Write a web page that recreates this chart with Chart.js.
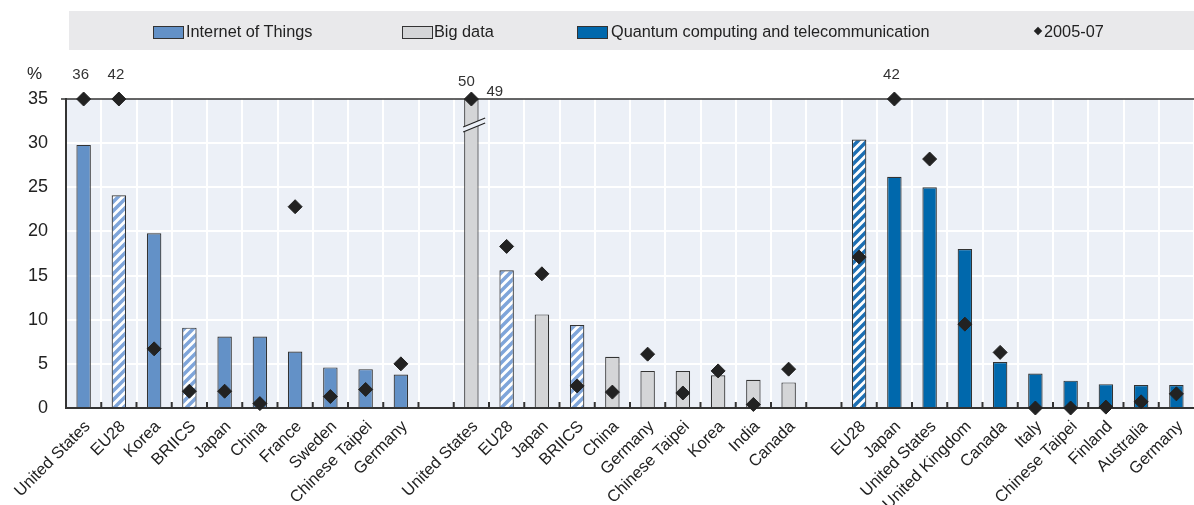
<!DOCTYPE html>
<html>
<head>
<meta charset="utf-8">
<script src="https://cdn.jsdelivr.net/npm/chart.js@4.4.1/dist/chart.umd.min.js"></script>
<style>
  body { margin: 0; overflow: hidden; background: #fff; }
  #wrap { position: relative; width: 1202px; height: 505px; font-family: 'Liberation Sans', Arial, sans-serif; color: #222; }
  #legend { position: absolute; left: 69px; top: 11px; width: 1133px; height: 39px; background: #e9e9eb; }
  .sw { position: absolute; top: 15px; width: 29px; height: 11px; border: 1px solid #333; }
  .txt { position: absolute; top: 0; line-height: 40px; font-size: 16.3px; white-space: nowrap; }
  .dia { position: absolute; top: 17px; width: 6px; height: 6px; background: #222; transform: rotate(45deg); }
  #pct { position: absolute; left: 27px; top: 64px; font-size: 17px; }
  canvas { position: absolute; left: 0; top: 0; }
</style>
</head>
<body>
<div id="wrap">
  <canvas id="chart" width="1202" height="505"></canvas>
  <div id="legend">
    <div class="sw" style="left:84px;background:#6391c7"></div><div class="txt" style="left:117px">Internet of Things</div>
    <div class="sw" style="left:333px;background:#d4d5d7"></div><div class="txt" style="left:365px">Big data</div>
    <div class="sw" style="left:508px;background:#0068ac"></div><div class="txt" style="left:542px">Quantum computing and telecommunication</div>
    <div class="dia" style="left:966px"></div><div class="txt" style="left:975px">2005-07</div>
  </div>
  <div id="pct">%</div>
</div>
<script>
const Y_MAX = 35;
const FONT = "'Liberation Sans', Arial, sans-serif";

// Internet of Things
const iotLabels = ['United States', 'EU28', 'Korea', 'BRIICS', 'Japan', 'China', 'France', 'Sweden', 'Chinese Taipei', 'Germany'];
const iotShare = [29.8, 24.1, 19.8, 9.1, 8.1, 8.1, 6.4, 4.6, 4.4, 3.8];
const iotPrev = [36, 42, 6.7, 1.9, 1.9, 0.5, 22.8, 1.3, 2.1, 5.0];

// Big data
const bigLabels = ['United States', 'EU28', 'Japan', 'BRIICS', 'China', 'Germany', 'Chinese Taipei', 'Korea', 'India', 'Canada'];
const bigShare = [50, 15.6, 10.6, 9.4, 5.8, 4.2, 4.2, 3.7, 3.2, 2.9];
const bigPrev = [49, 18.3, 15.2, 2.5, 1.8, 6.1, 1.7, 4.2, 0.4, 4.4];

// Quantum computing and telecommunication
const qLabels = ['EU28', 'Japan', 'United States', 'United Kingdom', 'Canada', 'Italy', 'Chinese Taipei', 'Finland', 'Australia', 'Germany'];
const qShare = [30.4, 26.2, 25.0, 18.0, 5.2, 3.9, 3.1, 2.7, 2.6, 2.6];
const qPrev = [17.1, 42, 28.2, 9.5, 6.3, 0.0, 0.0, 0.1, 0.7, 1.6];

const aggregates = ['EU28', 'BRIICS'];
const yTicks = [0, 5, 10, 15, 20, 25, 30, 35];

function hatch(stripe) {
  const n = 9;
  const c = document.createElement('canvas');
  c.width = c.height = n;
  const g = c.getContext('2d');
  g.fillStyle = '#fff';
  g.fillRect(0, 0, n, n);
  g.strokeStyle = stripe;
  g.lineWidth = 3.5;
  g.beginPath();
  g.moveTo(-2, n + 2); g.lineTo(n + 2, -2);
  g.moveTo(-2, 2); g.lineTo(2, -2);
  g.moveTo(n - 2, n + 2); g.lineTo(n + 2, n - 2);
  g.stroke();
  return g.createPattern(c, 'repeat');
}

const lightHatch = hatch('#7fa5da');
const darkHatch = hatch('#1d6fb3');

const labels = [...iotLabels, '', ...bigLabels, '', ...qLabels];
const barValues = [...iotShare, null, ...bigShare, null, ...qShare];
const prevValues = [...iotPrev, null, ...bigPrev, null, ...qPrev];
const barColors = [
  ...iotLabels.map(l => aggregates.includes(l) ? lightHatch : '#6391c7'), 'transparent',
  ...bigLabels.map(l => aggregates.includes(l) ? lightHatch : '#d4d5d7'), 'transparent',
  ...qLabels.map(l => aggregates.includes(l) ? darkHatch : '#0068ac')
];

const clip = v => v == null ? null : Math.min(v, Y_MAX);

const frame = {
  id: 'frame',
  beforeDraw(chart) {
    const { ctx, chartArea: a } = chart;
    ctx.save();
    ctx.fillStyle = '#ecf0f7';
    ctx.fillRect(a.left, a.top, a.right - a.left, a.bottom - a.top);
    ctx.restore();
  },
  afterDatasetDraw(chart, args) {
    if (args.index !== 0) return;
    const { ctx, chartArea: a } = chart;
    const meta = chart.getDatasetMeta(0);
    ctx.save();
    // break marks on bars cut at the top of the scale
    barValues.forEach((v, i) => {
      if (v == null || v <= Y_MAX) return;
      const bar = meta.data[i];
      const x0 = bar.x - bar.width / 2 - 1, x1 = x0 + 22;
      const y0 = a.top + 33;
      ctx.fillStyle = '#ecf0f7';
      ctx.beginPath();
      ctx.moveTo(x0, y0); ctx.lineTo(x1, y0 - 9); ctx.lineTo(x1, y0 - 14); ctx.lineTo(x0, y0 - 5);
      ctx.closePath();
      ctx.fill();
      ctx.strokeStyle = '#222';
      ctx.lineWidth = 1.2;
      ctx.beginPath();
      ctx.moveTo(x0, y0); ctx.lineTo(x1, y0 - 9);
      ctx.moveTo(x0, y0 - 5); ctx.lineTo(x1, y0 - 14);
      ctx.stroke();
    });
    ctx.strokeStyle = '#333';
    ctx.lineWidth = 2;
    ctx.beginPath();
    ctx.moveTo(a.left - 1, a.bottom); ctx.lineTo(a.right, a.bottom);
    ctx.stroke();
    ctx.lineWidth = 1.5;
    ctx.beginPath();
    ctx.moveTo(a.left - 5, a.top); ctx.lineTo(a.right, a.top);
    ctx.stroke();
    // small tick marks between categories
    ctx.lineWidth = 2;
    const step = (a.right - a.left) / labels.length;
    ctx.beginPath();
    for (let i = 1; i < labels.length; i++) {
      const xx = a.left + i * step;
      ctx.moveTo(xx, a.bottom);
      ctx.lineTo(xx, a.bottom - 6);
    }
    ctx.stroke();
    ctx.restore();
  },
  afterDraw(chart) {
    const { ctx, chartArea: a, scales: { x } } = chart;
    ctx.save();
    ctx.fillStyle = '#333';
    ctx.font = '15px ' + FONT;
    ctx.textBaseline = 'middle';
    labels.forEach((l, i) => {
      const cx = x.getPixelForValue(i);
      const b = barValues[i], p = prevValues[i];
      const barOver = b != null && b > Y_MAX;
      const prevOver = p != null && p > Y_MAX;
      ctx.textAlign = 'center';
      if (barOver) ctx.fillText(String(b), cx - 5, a.top - 17);
      if (prevOver) {
        if (barOver) {
          ctx.textAlign = 'left';
          ctx.fillText(String(p), cx + 15, a.top - 7);
        } else {
          ctx.fillText(String(p), cx - 3, a.top - 24);
        }
      }
    });
    ctx.restore();
  }
};

new Chart(document.getElementById('chart'), {
  type: 'bar',
  data: {
    labels: labels,
    datasets: [
      {
        label: 'Share',
        data: barValues.map(clip),
        backgroundColor: barColors,
        borderColor: '#333',
        borderWidth: 1.2,
        borderSkipped: 'bottom',
        barPercentage: 0.41,
        categoryPercentage: 1,
        order: 2
      },
      {
        type: 'line',
        label: '2005-07',
        data: prevValues.map(clip),
        showLine: false,
        pointStyle: 'rectRot',
        pointRadius: 7,
        pointBackgroundColor: '#222',
        pointBorderColor: '#222',
        pointBorderWidth: 1,
        clip: false,
        order: 1
      }
    ]
  },
  options: {
    responsive: false,
    animation: false,
    devicePixelRatio: 1,
    layout: { padding: { top: 99, right: 0, bottom: 0, left: 0 } },
    plugins: { legend: { display: false }, tooltip: { enabled: false } },
    scales: {
      x: {
        offset: true,
        grid: { color: '#fff', lineWidth: 2, offset: true, drawTicks: false },
        border: { display: false },
        ticks: {
          autoSkip: false, maxRotation: 45, minRotation: 45, padding: 9, labelOffset: 4,
          color: '#222', font: { family: FONT, size: 16.5 }
        },
        afterFit: s => { s.height = 97; }
      },
      y: {
        min: 0, max: Y_MAX,
        afterBuildTicks: s => { s.ticks = yTicks.map(v => ({ value: v })); },
        grid: {
          drawTicks: false, lineWidth: 2,
          color: c => (c.tick.value === 0 || c.tick.value === Y_MAX) ? 'transparent' : '#fff'
        },
        border: { display: true, color: '#333', width: 2 },
        ticks: { padding: 18, color: '#222', font: { family: FONT, size: 18 } },
        afterFit: s => { s.width = 66; }
      }
    }
  },
  plugins: [frame]
});
</script>
</body>
</html>
